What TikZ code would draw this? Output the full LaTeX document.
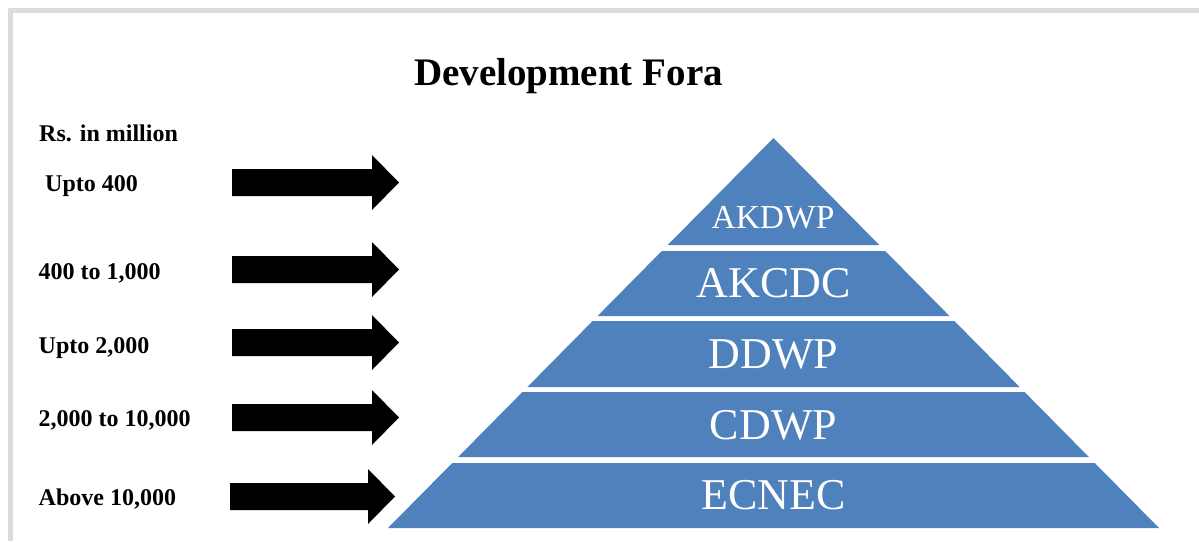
\documentclass[tikz,border=0pt]{standalone}
\usepackage{fontspec}
\setmainfont{Liberation Serif}
\definecolor{layerblue}{HTML}{4F81BD}
\definecolor{framegrey}{HTML}{DCDCDC}
\begin{document}
\begin{tikzpicture}[x=1pt,y=-1pt,
  lbl/.style={anchor=base west,inner sep=0pt,font=\fontsize{24}{28}\selectfont\bfseries},
  lyr/.style={anchor=base,inner sep=0pt,text=white,font=\fontsize{44}{50}\selectfont},
  layer/.style={fill=layerblue},
  blockarrow/.style={fill=black}]
\useasboundingbox (0,0) rectangle (1199,541);
% frame
\fill[framegrey] (8,8) rectangle (1199,12.5);
\fill[framegrey] (8,8) rectangle (12.5,541);
% title
\node[anchor=base,inner sep=0pt,font=\fontsize{39}{44}\selectfont\bfseries] (title) at (568.5,85) {Development Fora};
% labels
\node[lbl] (unit) at (39,141) {Rs. in million};
\node[lbl] (l1) at (45,191) {Upto 400};
\node[lbl] (l2) at (38.5,279) {400 to 1,000};
\node[lbl] (l3) at (38.5,353) {Upto 2,000};
\node[lbl] (l4) at (38.5,426) {2,000 to 10,000};
\node[lbl] (l5) at (38.5,505) {Above 10,000};
% arrows
\foreach \c/\s/\t in {182.5/232/399, 269.5/232/399, 342.5/232/399, 417.5/232/399, 496.5/230/395}{
  \fill[blockarrow] (\s,\c-13.5) -- (\t-27,\c-13.5) -- (\t-27,\c-27.5) -- (\t,\c) -- (\t-27,\c+27.5) -- (\t-27,\c+13.5) -- (\s,\c+13.5) -- cycle;
}
% pyramid
\def\ax{773.5}\def\ay{138}\def\k{0.98846}
\fill[layer] (\ax,\ay) -- ({\ax+(245-\ay)*\k},245) -- ({\ax-(245-\ay)*\k},245) -- cycle;
\foreach \tp/\bt in {251/316, 321/387, 392/457, 463/528}{
  \fill[layer] ({\ax-(\tp-\ay)*\k},\tp) -- ({\ax+(\tp-\ay)*\k},\tp) -- ({\ax+(\bt-\ay)*\k},\bt) -- ({\ax-(\bt-\ay)*\k},\bt) -- cycle;
}
\node[lyr,font=\fontsize{33.5}{40}\selectfont] (akdwp) at (773,228) {AKDWP};
\node[lyr] (akcdc) at (773.5,297.5) {AKCDC};
\node[lyr] (ddwp) at (773.5,368) {DDWP};
\node[lyr] (cdwp) at (773.5,439) {CDWP};
\node[lyr] (ecnec) at (773.5,509) {ECNEC};
\end{tikzpicture}
\end{document}
